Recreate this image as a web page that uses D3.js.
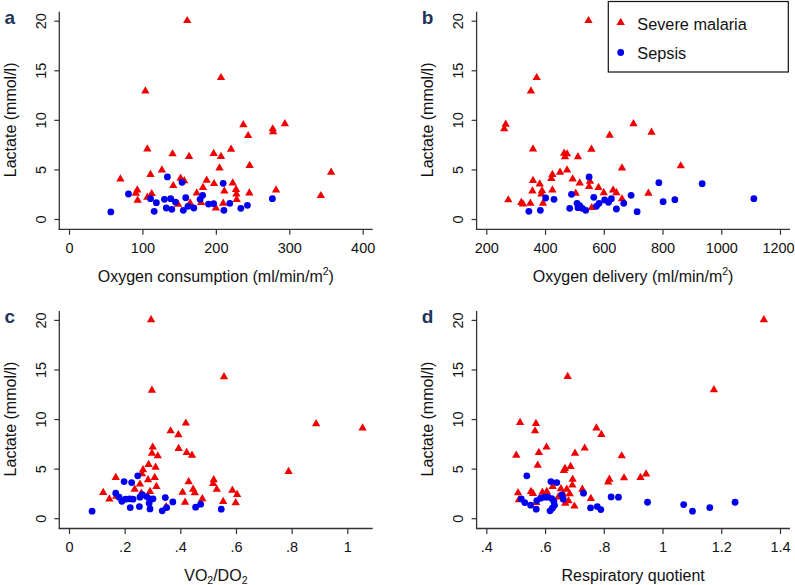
<!DOCTYPE html>
<html><head><meta charset="utf-8">
<script src="https://cdn.jsdelivr.net/npm/d3@7"></script>
<style>
body{margin:0;background:#fff}
svg{display:block}
text{font-family:"Liberation Sans",Arial,Helvetica,sans-serif;fill:#111}
</style>
</head><body>
<svg id="chart" width="795" height="585"></svg>
<script>
// ---------- data: [x, lactate] ----------
const vo2Malaria = [[161,20.0],[207,14.25],[104,12.9],[237.5,9.5],[294,9.6],[277.5,9.08],[278,8.8],[244,8.4],
[106.7,7.06],[220.7,7.03],[141,6.56],[197,6.6],[163.5,6.3],[207,6.3],[205,5.14],[246,5.38],
[126.5,4.94],[111,4.47],[70,4.03],[152,4.1],[157,3.86],[357,4.7],[187.5,3.9],[197.5,3.56],[223,3.63],
[142,3.36],[182.5,3.16],[93,2.92],[227.5,2.96],[282,2.92],[211.6,2.82],[174,2.62],[245.6,2.62],
[112.6,2.55],[91,2.59],[228,2.52],[343,2.35],[106.7,2.19],[93.5,1.88],[228.4,1.95],[148.5,1.48],
[165,1.61],[180,1.65],[210,1.58],[200,1.11]];
const vo2Sepsis = [[57,0.71],[81,2.52],[134,4.24],[154,3.7],[210,3.6],[111,2.05],[119,1.65],[130,1.98],[138.5,2.05],
[145,1.71],[159,2.15],[178.5,1.98],[182,2.39],[190,1.51],[197,1.55],[219,1.58],[116,0.77],[132.5,1.11],[140,0.98],
[155.7,0.87],[162,1.28],[170,1.11],[211,0.87],[234,1.08],[243,1.38],[277,2.05]];

const do2Malaria = [[548,20.0],[371.5,14.25],[352,12.9],[266,9.55],[261,9.08],[701,9.6],[762.5,8.74],[620,8.44],
[359,7.06],[558,7.03],[465,6.63],[475,6.56],[468,6.28],[512,6.28],[662,5.14],[862,5.35],
[451,4.7],[475,4.94],[425,4.47],[421.6,4.07],[494,4.03],[518,3.63],[553,3.8],[359,3.87],[382,3.53],
[550,3.26],[582,3.16],[357,2.82],[389.6,2.85],[425,2.92],[631.7,2.92],[643,2.65],[600,2.65],[504.5,2.59],
[387.5,2.52],[752,2.59],[662,2.02],[275,1.92],[319,1.65],[325,1.51],[350,1.58],[393,1.58],[559,1.14]];
const do2Sepsis = [[550,4.24],[787.5,3.66],[402,2.12],[430.5,1.98],[490,2.49],[566,2.19],[509,1.58],[518,1.34],
[512,1.14],[527,1.08],[538.6,0.87],[575,1.28],[584,1.58],[603,1.92],[616,1.68],[626,2.05],[643,1.01],[668,1.58],
[693,2.39],[713.5,0.74],[802,1.75],[842,1.95],[345,0.77],[384,0.87],[484,1.08],[935,3.56],[1111,2.05]];

const ratioMalaria = [[0.295,20.0],[0.298,12.9],[0.557,14.25],[0.42,9.58],[0.888,9.51],[1.055,9.08],[0.365,8.8],[0.393,8.4],
[0.301,7.16],[0.394,7.02],[0.298,6.55],[0.319,6.28],[0.423,6.62],[0.442,6.35],[0.286,5.41],[0.311,5.14],[0.266,4.87],
[0.262,4.47],[0.168,4.1],[0.308,4.1],[0.284,3.86],[0.314,3.19],[0.255,3.43],[0.236,2.92],[0.26,2.52],[0.291,2.69],
[0.43,3.66],[0.52,3.86],[0.518,3.49],[0.446,2.92],[0.452,2.55],[0.408,2.62],[0.531,2.92],[0.587,2.82],[0.604,2.38],
[0.123,2.58],[0.145,1.92],[0.417,1.61],[0.479,1.95],[0.554,1.67],[0.599,1.54],[0.349,1.14],[0.789,4.7],[0.17,2.2]];
const ratioSepsis = [[0.083,0.71],[0.198,3.69],[0.225,3.59],[0.247,4.27],[0.168,2.52],[0.18,2.12],[0.19,1.71],[0.203,1.92],
[0.218,1.95],[0.23,1.92],[0.255,2.12],[0.263,2.38],[0.279,2.18],[0.29,1.95],[0.302,1.95],[0.288,1.51],[0.291,0.94],
[0.22,1.07],[0.253,1.17],[0.335,0.74],[0.351,1.07],[0.346,2.08],[0.373,1.64],[0.455,1.11],[0.473,1.41],[0.547,0.91]];

const rqMalaria = [[1.345,20.0],[0.677,14.28],[1.175,12.94],[0.515,9.64],[0.569,9.54],[0.566,8.8],[0.775,9.1],[0.792,8.44],
[0.605,7.16],[0.735,7.06],[0.502,6.35],[0.579,6.62],[0.702,6.55],[0.861,6.28],[0.575,5.34],[0.664,4.8],[0.668,5.0],
[0.687,5.2],[0.869,4.06],[0.925,4.1],[0.944,4.44],[0.819,3.93],[0.815,3.63],[0.694,3.93],[0.693,3.33],[0.626,3.19],
[0.674,2.92],[0.727,2.92],[0.756,1.98],[0.508,2.55],[0.552,2.69],[0.559,2.48],[0.591,2.62],[0.606,2.69],[0.654,2.96],
[0.662,2.42],[0.645,2.12],[0.68,1.75],[0.669,1.51],[0.7,1.21],[0.511,1.85],[0.57,1.58],[0.684,2.45]];
const rqSepsis = [[0.538,4.27],[0.62,3.69],[0.64,3.59],[0.657,2.35],[0.662,1.92],[0.731,2.52],[0.519,1.95],[0.531,1.58],
[0.551,1.31],[0.57,0.91],[0.572,1.78],[0.585,2.02],[0.599,2.12],[0.61,2.12],[0.623,1.98],[0.63,1.71],[0.632,1.31],
[0.625,1.01],[0.617,0.74],[0.755,1.04],[0.778,1.17],[0.79,0.87],[0.825,2.15],[0.85,2.12],[0.949,1.61],[1.072,1.37],
[1.102,0.71],[1.161,1.07],[1.247,1.61]];

const lactateTicks = [0,5,10,15,20];
const vo2Ticks = [0,100,200,300,400];
const do2Ticks = [200,400,600,800,1000,1200];
const ratioTicks = [0,0.2,0.4,0.6,0.8,1];
const rqTicks = [0.4,0.6,0.8,1,1.2,1.4];
const seriesNames = ["Severe malaria","Sepsis"];
const yTitle = "Lactate (mmol/l)";

// ---------- layout ----------
const RED = "#f00000", BLUE = "#0000ee", AX = "#333";
const fmtDec = d => d === 0 ? "0" : String(+d.toFixed(2)).replace(/^0\./, ".");
const panels = [
  {label:"a", dx:0, dy:0, ticks:vo2Ticks, fmt:d=>String(d), malaria:vo2Malaria, sepsis:vo2Sepsis,
   title:[{t:"Oxygen consumption (ml/min/m"},{t:"2",sup:1},{t:")"}]},
  {label:"b", dx:417.3, dy:0, ticks:do2Ticks, fmt:d=>String(d), malaria:do2Malaria, sepsis:do2Sepsis,
   title:[{t:"Oxygen delivery (ml/min/m"},{t:"2",sup:1},{t:")"}], nudgeLast:true},
  {label:"c", dx:0, dy:299.2, ticks:ratioTicks, fmt:fmtDec, malaria:ratioMalaria, sepsis:ratioSepsis,
   title:[{t:"VO"},{t:"2",sub:1},{t:"/DO"},{t:"2",sub:1}], lastTickPx:347.3},
  {label:"d", dx:417.3, dy:299.2, ticks:rqTicks, fmt:fmtDec, malaria:rqMalaria, sepsis:rqSepsis,
   title:[{t:"Respiratory quotient"}]}
];

const svg = d3.select("#chart");
const axX = 59.3, axY = 229.3, axTop = 11.7, axRight = 372.7;
const y = d3.scaleLinear().domain([0,20]).range([219,20.7]);
const tri = d3.symbol().type(d3.symbolTriangle).size(30);

panels.forEach(p => {
  const g = svg.append("g").attr("transform", `translate(${p.dx},${p.dy})`);
  const x = d3.scaleLinear().domain([p.ticks[0], p.ticks[p.ticks.length-1]])
              .range([69, p.lastTickPx || 362.7]);

  // axis lines
  g.append("line").attr("x1",axX).attr("x2",axX).attr("y1",axTop).attr("y2",axY+0.6)
    .attr("stroke",AX).attr("stroke-width",1.3);
  g.append("line").attr("x1",axX-0.6).attr("x2",axRight).attr("y1",axY).attr("y2",axY)
    .attr("stroke",AX).attr("stroke-width",1.3);

  // x axis
  const xa = g.append("g").attr("transform",`translate(0,${axY})`)
    .call(d3.axisBottom(x).tickValues(p.ticks).tickFormat(p.fmt).tickSize(5.5).tickPadding(8));
  xa.select(".domain").remove();
  xa.selectAll(".tick line").attr("stroke",AX).attr("stroke-width",1.2);
  xa.selectAll(".tick text").attr("font-size",14.5).attr("fill","#111");
  if (p.nudgeLast) xa.selectAll(".tick text").filter((d,i,n)=>i===n.length-1).attr("x",-2);

  // y axis
  const ya = g.append("g").attr("transform",`translate(${axX},0)`)
    .call(d3.axisLeft(y).tickValues(lactateTicks).tickSize(5));
  ya.select(".domain").remove();
  ya.selectAll(".tick line").attr("stroke",AX).attr("stroke-width",1.2);
  ya.selectAll(".tick text").attr("font-size",14.5).attr("fill","#111")
    .attr("x",null).attr("dy",null).attr("text-anchor","middle")
    .attr("transform","translate(-13.6,0) rotate(-90)");

  // y title
  g.append("text").attr("transform",`translate(16,${(y(0)+y(20))/2}) rotate(-90)`)
    .attr("text-anchor","middle").attr("font-size",16).text(yTitle);

  // x title
  const xt = g.append("text").attr("x",(69+362.7)/2).attr("y",281.5)
    .attr("text-anchor","middle").attr("font-size",16);
  p.title.forEach((s,i) => {
    const ts = xt.append("tspan").text(s.t);
    const prev = i>0 ? p.title[i-1] : null;
    if (s.sup) ts.attr("font-size",10.5).attr("dy",-6.5);
    else if (s.sub) ts.attr("font-size",10.5).attr("dy",3.5);
    else if (prev && prev.sup) ts.attr("dy",6.5);
    else if (prev && prev.sub) ts.attr("dy",-3.5);
  });

  // panel label
  g.append("text").attr("x",4.5).attr("y",23.5).attr("font-size",19).attr("font-weight","bold")
    .style("fill","#23355a").text(p.label);

  // markers: malaria first, sepsis on top
  g.append("g").selectAll("path").data(p.malaria).join("path")
    .attr("d",tri).attr("fill",RED)
    .attr("transform",d=>`translate(${x(d[0])},${y(d[1])})`);
  g.append("g").selectAll("circle").data(p.sepsis).join("circle")
    .attr("cx",d=>x(d[0])).attr("cy",d=>y(d[1])).attr("r",3.4).attr("fill",BLUE);
});

// legend
const lg = svg.append("g");
lg.append("rect").attr("x",608.3).attr("y",1.5).attr("width",180).attr("height",70.5)
  .attr("fill","#fff").attr("stroke","#111").attr("stroke-width",1.2);
lg.append("path").attr("d",tri).attr("fill",RED).attr("transform","translate(620.7,22.5)");
lg.append("circle").attr("cx",620.7).attr("cy",52.5).attr("r",3.4).attr("fill",BLUE);
lg.append("text").attr("x",637.3).attr("y",30).attr("font-size",16.3).text(seriesNames[0]);
lg.append("text").attr("x",637.3).attr("y",59).attr("font-size",16.3).text(seriesNames[1]);
</script>
</body></html>
